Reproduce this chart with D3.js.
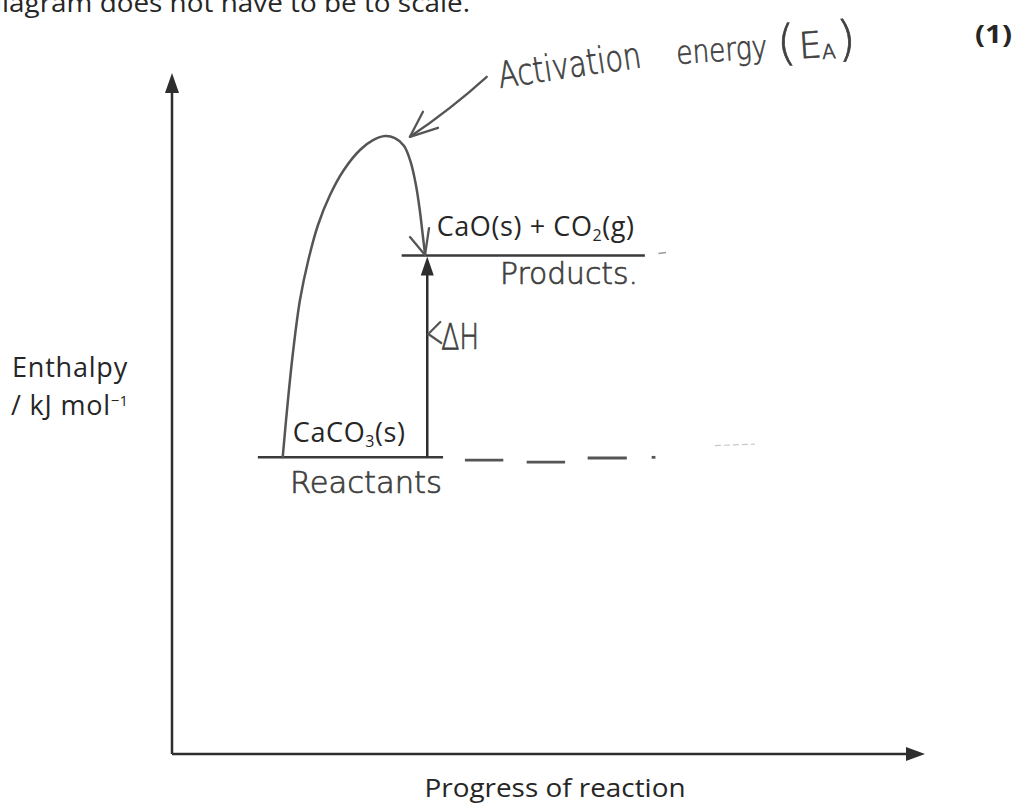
<!DOCTYPE html>
<html lang="en">
<head>
  <meta charset="UTF-8" />
  <title>Enthalpy profile – CaCO3 decomposition</title>
  <script src="https://d3js.org/d3.v7.min.js"></script>
  <style>
    body { margin: 0; background: #fff; }
    svg { display: block; }
    .print { font-family: "Open Sans", "Noto Sans", sans-serif; fill: #262626; }
    .hand { font-family: "DejaVu Sans", sans-serif; font-weight: 200; fill: #404040; stroke: #404040; stroke-width: 0.7; }
  </style>
</head>
<body>
  <script>
    const width = 1014;
    const height = 805;

    // enthalpy levels (arbitrary units, diagram not to scale)
    const levelNames = ["Reactants", "Products."];
    const levelEnthalpy = [43.5, 73.1];
    const levelProgress = [[11.4, 36.0], [30.5, 62.8]];

    // hand-drawn reaction path
    const pathProgress = [14.7, 15.4, 16.1, 17.0, 18.1, 19.4, 21.0, 22.8, 25.0, 26.7, 28.3, 29.6, 30.8, 31.7, 32.4, 32.9, 33.3, 33.6];
    const pathEnthalpy = [43.5, 51.9, 59.2, 66.6, 72.4, 77.6, 82.0, 85.6, 88.6, 90.0, 90.6, 90.3, 89.2, 86.8, 83.4, 79.8, 76.1, 73.3];

    // dashed continuation of the reactant level
    const dashProgress = [[38.9, 44.0], [47.1, 52.2], [55.2, 60.4], [63.7, 64.2], [72.1, 77.4]];
    const dashEnthalpy = [43.1, 42.8, 43.4, 43.5, 45.0];
    const productDashProgress = [[64.6, 65.6]];

    const deltaHProgress = 33.9;
    const eaArrowFrom = [41.8, 99.3];
    const eaArrowTo = [31.6, 90.5];

    const x = d3.scaleLinear().domain([0, 100]).range([172, 925]);
    const y = d3.scaleLinear().domain([0, 100]).range([754, 72]);

    const svg = d3.select("body").append("svg")
      .attr("width", width)
      .attr("height", height);

    // cropped instruction line at the top
    svg.append("text").attr("class", "print")
      .attr("x", -15).attr("y", 12)
      .attr("font-size", 26)
      .attr("textLength", 485).attr("lengthAdjust", "spacingAndGlyphs")
      .text("diagram does not have to be to scale.");

    svg.append("text").attr("class", "print")
      .attr("x", 975).attr("y", 43)
      .attr("font-size", 25).attr("font-weight", "bold")
      .attr("textLength", 37).attr("lengthAdjust", "spacingAndGlyphs")
      .text("(1)");

    // axes
    const axisColor = "#2e2e2e";
    svg.append("line")
      .attr("x1", x(0)).attr("y1", y(0))
      .attr("x2", x(0)).attr("y2", y(100) + 18)
      .attr("stroke", axisColor).attr("stroke-width", 2.5);
    svg.append("path")
      .attr("d", `M${x(0)},${y(100) + 1} L${x(0) - 7},${y(100) + 21} L${x(0) + 7},${y(100) + 21} Z`)
      .attr("fill", axisColor);

    svg.append("line")
      .attr("x1", x(0)).attr("y1", y(0))
      .attr("x2", x(100) - 18).attr("y2", y(0))
      .attr("stroke", axisColor).attr("stroke-width", 2.5);
    svg.append("path")
      .attr("d", `M${x(100)},${y(0)} L${x(100) - 19},${y(0) - 7} L${x(100) - 19},${y(0) + 7} Z`)
      .attr("fill", axisColor);

    svg.append("text").attr("class", "print")
      .attr("x", 555).attr("y", 797)
      .attr("text-anchor", "middle")
      .attr("font-size", 26)
      .attr("textLength", 261).attr("lengthAdjust", "spacingAndGlyphs")
      .text("Progress of reaction");

    svg.append("text").attr("class", "print")
      .attr("x", 128).attr("y", 377)
      .attr("text-anchor", "end")
      .attr("font-size", 27).attr("letter-spacing", 0.8)
      .text("Enthalpy");
    const unit = svg.append("text").attr("class", "print")
      .attr("x", 128).attr("y", 415)
      .attr("text-anchor", "end")
      .attr("font-size", 27);
    unit.append("tspan").attr("letter-spacing", 0.8).text("/ kJ mol");
    unit.append("tspan").attr("dy", -9).attr("font-size", 15).text("−1");

    // level lines
    svg.selectAll("line.level")
      .data(levelNames)
      .enter().append("line")
      .attr("class", "level")
      .attr("x1", (d, i) => x(levelProgress[i][0]))
      .attr("x2", (d, i) => x(levelProgress[i][1]))
      .attr("y1", (d, i) => y(levelEnthalpy[i]))
      .attr("y2", (d, i) => y(levelEnthalpy[i]))
      .attr("stroke", "#3a3a3a")
      .attr("stroke-width", 2.5);

    // dashes after reactants
    svg.selectAll("line.dash")
      .data(dashProgress)
      .enter().append("line")
      .attr("class", "dash")
      .attr("x1", d => x(d[0])).attr("x2", d => x(d[1]))
      .attr("y1", (d, i) => y(dashEnthalpy[i]) - (i === 4 ? 1.5 : 0))
      .attr("y2", (d, i) => y(dashEnthalpy[i]) + (i === 4 ? -3 : 0))
      .attr("stroke", (d, i) => i === 4 ? "#c8c8c8" : "#555")
      .attr("stroke-width", (d, i) => i === 4 ? 1.2 : 2.8)
      .attr("stroke-dasharray", (d, i) => i === 4 ? "6,3" : null);

    svg.selectAll("line.pdash")
      .data(productDashProgress)
      .enter().append("line")
      .attr("class", "pdash")
      .attr("x1", d => x(d[0])).attr("x2", d => x(d[1]))
      .attr("y1", y(levelEnthalpy[1]) - 2).attr("y2", y(levelEnthalpy[1]) - 3)
      .attr("stroke", "#999").attr("stroke-width", 1.5);

    // species labels
    const r = svg.append("text").attr("class", "print")
      .attr("x", x(levelProgress[0][0]) + 35).attr("y", y(levelEnthalpy[0]) - 15)
      .attr("font-size", 27).attr("letter-spacing", 0.6);
    r.append("tspan").text("CaCO");
    r.append("tspan").attr("font-size", 16).attr("dy", 5).text("3");
    r.append("tspan").attr("dy", -5).text("(s)");

    const p = svg.append("text").attr("class", "print")
      .attr("x", x(levelProgress[1][0]) + 35).attr("y", y(levelEnthalpy[1]) - 19)
      .attr("font-size", 27).attr("letter-spacing", 0.6);
    p.append("tspan").text("CaO(s) + CO");
    p.append("tspan").attr("font-size", 16).attr("dy", 5).text("2");
    p.append("tspan").attr("dy", -5).text("(g)");

    // ΔH arrow
    const dx = x(deltaHProgress);
    svg.append("line")
      .attr("x1", dx).attr("x2", dx)
      .attr("y1", y(levelEnthalpy[0])).attr("y2", y(levelEnthalpy[1]) + 16)
      .attr("stroke", "#2e2e2e").attr("stroke-width", 2.5);
    svg.append("path")
      .attr("d", `M${dx},${y(levelEnthalpy[1]) + 1} L${dx - 6.5},${y(levelEnthalpy[1]) + 20} L${dx + 6.5},${y(levelEnthalpy[1]) + 20} Z`)
      .attr("fill", "#2e2e2e");

    // hand-drawn parts
    const hand = "#555";
    const curve = pathProgress.map((d, i) => [x(d), y(pathEnthalpy[i])]);
    svg.append("path")
      .attr("d", d3.line().curve(d3.curveCatmullRom.alpha(0.5))(curve))
      .attr("fill", "none")
      .attr("stroke", hand).attr("stroke-width", 2.5)
      .attr("stroke-linecap", "round");

    const tip = curve[curve.length - 1];
    svg.append("path")
      .attr("d", `M${tip[0] - 15},${tip[1] - 17} L${tip[0]},${tip[1] + 1} L${tip[0] + 4},${tip[1] - 26}`)
      .attr("fill", "none").attr("stroke", hand).attr("stroke-width", 2.3)
      .attr("stroke-linecap", "round").attr("stroke-linejoin", "round");

    const ea0 = [x(eaArrowFrom[0]), y(eaArrowFrom[1])];
    const ea1 = [x(eaArrowTo[0]), y(eaArrowTo[1])];
    svg.append("path")
      .attr("d", `M${ea0[0]},${ea0[1]} Q${(ea0[0] + ea1[0]) / 2 + 3},${(ea0[1] + ea1[1]) / 2 + 2} ${ea1[0]},${ea1[1]}`)
      .attr("fill", "none").attr("stroke", hand).attr("stroke-width", 2.3)
      .attr("stroke-linecap", "round");
    svg.append("path")
      .attr("d", `M${ea1[0] + 13},${ea1[1] - 25} L${ea1[0]},${ea1[1]} L${ea1[0] + 28},${ea1[1] - 9}`)
      .attr("fill", "none").attr("stroke", hand).attr("stroke-width", 2.3)
      .attr("stroke-linecap", "round").attr("stroke-linejoin", "round");

    // ΔH hand label
    svg.append("path")
      .attr("d", `M${dx + 13},${322} L${dx + 1},${334} L${dx + 14},${343}`)
      .attr("fill", "none").attr("stroke", hand).attr("stroke-width", 2.2)
      .attr("stroke-linecap", "round");
    svg.append("text").attr("class", "hand")
      .attr("x", dx + 14).attr("y", 349)
      .attr("font-size", 36)
      .attr("textLength", 38).attr("lengthAdjust", "spacingAndGlyphs")
      .text("ΔH");

    // handwritten level names
    svg.selectAll("text.levelName")
      .data(levelNames)
      .enter().append("text")
      .attr("class", "hand levelName")
      .attr("x", (d, i) => i === 0 ? 290 : 500)
      .attr("y", (d, i) => y(levelEnthalpy[i]) + (i === 0 ? 36 : 29))
      .attr("font-size", 30)
      .attr("textLength", (d, i) => i === 0 ? 152 : 138)
      .attr("lengthAdjust", "spacingAndGlyphs")
      .text(d => d);

    // handwritten activation energy label
    svg.append("text").attr("class", "hand")
      .attr("transform", "translate(500,88) rotate(-8.4)")
      .attr("font-size", 36)
      .attr("textLength", 144).attr("lengthAdjust", "spacingAndGlyphs")
      .text("Activation");
    svg.append("text").attr("class", "hand")
      .attr("transform", "translate(677,64) rotate(-4)")
      .attr("font-size", 32)
      .attr("textLength", 91).attr("lengthAdjust", "spacingAndGlyphs")
      .text("energy");
    const ea = svg.append("text").attr("class", "hand")
      .attr("transform", "translate(778,60) rotate(-4)")
      .attr("font-size", 48);
    ea.append("tspan").text("(");
    ea.append("tspan").attr("font-size", 36).attr("dx", 3).text("E");
    ea.append("tspan").attr("font-size", 20).attr("dy", 2).text("A");
    ea.append("tspan").attr("dy", -2).attr("dx", 2).text(")");
  </script>
</body>
</html>
